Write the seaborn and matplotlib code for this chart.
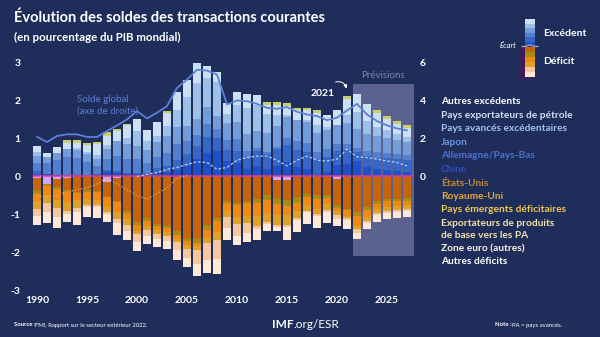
import numpy as np
import pandas as pd
import matplotlib
matplotlib.use("Agg")
import matplotlib.pyplot as plt
import seaborn as sns
from matplotlib.patches import Rectangle
from matplotlib.lines import Line2D

# ---------------- data (% of world GDP) ----------------
years = list(range(1990, 2028))
nan = np.nan

# surpluses (bottom -> top)
chine = [0.05,0.06,0.03,0.00,0.03,0.01,0.03,0.12,0.10,0.07,0.06,0.05,0.10,0.12,0.18,0.29,0.46,0.62,0.67,0.41,
         0.36,0.20,0.29,0.19,0.29,0.39,0.25,0.20,0.03,0.12,0.30,0.33,0.40,0.25,0.20,0.18,0.15,0.13]
allemagne_pb = [0.10,0.00,0.00,0.02,0.02,0.03,0.04,0.05,0.04,0.02,0.02,0.03,0.12,0.15,0.25,0.30,0.35,0.42,0.35,0.30,
                0.32,0.30,0.38,0.40,0.44,0.45,0.45,0.44,0.42,0.40,0.38,0.38,0.25,0.30,0.30,0.30,0.30,0.30]
japon = [0.20,0.30,0.40,0.50,0.45,0.35,0.20,0.30,0.40,0.37,0.37,0.27,0.30,0.36,0.42,0.35,0.30,0.36,0.23,0.25,
         0.30,0.17,0.08,0.06,0.05,0.18,0.25,0.25,0.21,0.20,0.18,0.16,0.10,0.12,0.14,0.14,0.14,0.14]
avances_exc = [0.20,0.15,0.20,0.20,0.20,0.20,0.20,0.25,0.40,0.40,0.35,0.35,0.40,0.45,0.45,0.40,0.40,0.45,0.35,0.45,
               0.45,0.45,0.45,0.50,0.55,0.55,0.55,0.55,0.50,0.50,0.50,0.55,0.50,0.45,0.42,0.40,0.38,0.35]
petrole = [0.10,0.00,0.00,0.00,0.05,0.05,0.10,0.10,0.00,0.15,0.40,0.25,0.15,0.25,0.45,0.75,0.95,0.75,0.90,0.25,
           0.45,0.70,0.70,0.50,0.30,0.05,0.00,0.05,0.20,0.10,0.00,0.20,0.45,0.35,0.25,0.20,0.15,0.12]
autres_exc = [0.16,0.10,0.16,0.17,0.13,0.20,0.30,0.26,0.26,0.34,0.31,0.27,0.37,0.35,0.49,0.47,0.54,0.33,0.25,0.29,
              0.35,0.35,0.25,0.23,0.25,0.24,0.27,0.27,0.32,0.30,0.40,0.42,0.49,0.45,0.38,0.30,0.27,0.23]
ecart_pos = [0,0,0,0.07,0.08,0.05,0.05,0.10,0.05,0.05,0,0,0,0.05,0,0,0,0,0,0,
             0,0,0,0.08,0.08,0.07,0.03,0.06,0.07,0,0,0.10,0,0,0.06,0.07,0.07,0.08]

# deficits (magnitudes, from zero downward)
ecart_neg = [0.05,0.20,0.07,0.05,0,0,0,0.15,0.05,0,0,0,0,0,0,0,0,0,0,0,
             0,0,0,0,0.08,0.08,0,0,0,0,0.06,0,0,0,0,0,0,0]
etats_unis = [0.30,0.00,0.20,0.30,0.40,0.35,0.38,0.40,0.60,0.90,1.20,1.10,1.25,1.30,1.45,1.62,1.63,1.28,1.10,0.65,
              0.69,0.66,0.60,0.48,0.50,0.55,0.55,0.45,0.50,0.50,0.70,0.85,0.95,0.80,0.65,0.60,0.60,0.58]
royaume_uni = [0.10,0.05,0.05,0.05,0.03,0.05,0.03,0.00,0.03,0.08,0.08,0.07,0.06,0.06,0.09,0.09,0.12,0.14,0.08,0.06,
               0.07,0.03,0.10,0.13,0.15,0.15,0.15,0.10,0.10,0.08,0.06,0.04,0.10,0.08,0.07,0.06,0.06,0.06]
emergents_def = [0.20,0.25,0.30,0.30,0.20,0.20,0.20,0.25,0.25,0.15,0.15,0.15,0.10,0.10,0.10,0.10,0.10,0.20,0.30,0.20,
                 0.30,0.35,0.35,0.35,0.30,0.25,0.20,0.20,0.25,0.15,0.10,0.15,0.25,0.20,0.15,0.15,0.12,0.12]
exportateurs_pb = [0.20,0.20,0.20,0.20,0.20,0.15,0.15,0.15,0.20,0.15,0.10,0.10,0.10,0.10,0.10,0.10,0.10,0.15,0.20,0.15,
                   0.20,0.20,0.25,0.25,0.25,0.25,0.20,0.15,0.15,0.15,0.10,0.05,0.10,0.10,0.10,0.10,0.10,0.10]
zone_euro = [0.20,0.25,0.25,0.10,0.10,0.05,0.05,0.05,0.10,0.15,0.20,0.15,0.15,0.15,0.20,0.25,0.35,0.45,0.50,0.30,
             0.30,0.25,0.10,0.05,0.05,0.05,0.05,0.05,0.05,0.05,0.10,0.05,0.10,0.05,0.05,0.05,0.05,0.05]
autres_def = [0.24,0.29,0.28,0.21,0.34,0.28,0.30,0.21,0.31,0.26,0.25,0.22,0.21,0.20,0.26,0.24,0.32,0.32,0.40,0.33,
              0.25,0.25,0.29,0.19,0.12,0.35,0.31,0.30,0.31,0.30,0.20,0.25,0.15,0.17,0.19,0.16,0.17,0.17]

# lines
solde_global = [2.10,1.82,2.14,2.23,2.23,2.09,2.09,2.40,2.70,3.02,3.46,3.07,3.37,3.72,4.68,5.12,5.65,5.60,5.39,3.81,
                4.02,3.98,3.84,3.63,3.58,3.67,3.42,3.28,3.19,2.98,3.11,3.49,3.84,3.28,2.93,2.70,2.54,2.44]
ligne_pos = [nan]*10 + [0.00,0.06,0.10,0.19,0.24,0.32,0.39,0.37,0.19,0.24,0.43,0.50,0.54,0.54,0.43,0.28,0.43,0.54,
                        0.43,0.41,0.46,0.72,0.52,0.50,0.46,0.41,0.37,0.28]
ligne_neg = [-0.50,-0.55,-0.50,-0.40,-0.35,-0.30,-0.20,-0.03,-0.20,-0.35,-0.50,-0.60,-0.45,-0.30,-0.05,0.02] + [nan]*22

tick_years = [1990, 1995, 2000, 2005, 2010, 2015, 2020, 2025]
left_ticks = [-3, -2, -1, 0, 1, 2, 3]
right_ticks = [0, 2, 4, 6]

# ---------------- style ----------------
BG = "#1f2d5b"
pos_series = [("Chine", chine, "#1f50c8"),
              ("Allemagne/Pays-Bas", allemagne_pb, "#3566c8"),
              ("Japon", japon, "#527fd0"),
              ("Pays avancés excédentaires", avances_exc, "#739cd9"),
              ("Pays exportateurs de pétrole", petrole, "#9cc0e7"),
              ("Autres excédents", autres_exc, "#cbe0f3"),
              ("Écart+", ecart_pos, "#c6cf6c")]
neg_series = [("Écart-", ecart_neg, "#d2a6ec"),
              ("États-Unis", etats_unis, "#c4650e"),
              ("Royaume-Uni", royaume_uni, "#a98b18"),
              ("Pays émergents déficitaires", emergents_def, "#ee8912"),
              ("Exportateurs", exportateurs_pb, "#dca22a"),
              ("Zone euro (autres)", zone_euro, "#f5c7a0"),
              ("Autres déficits", autres_def, "#fde8da")]

sns.set_theme(style="white")
plt.rcParams["font.family"] = ["Lato", "DejaVu Sans"]

W, H = 600, 337
fig = plt.figure(figsize=(6, 3.37), dpi=100, facecolor=BG)
ax = fig.add_axes([29 / W, 1 - 290 / H, 388 / W, 227 / H])
ax.set_facecolor(BG)

# forecast box
ax.add_patch(Rectangle((31.55, -2.1), 6.15, 4.55, facecolor="#5b628f", edgecolor="none", zorder=0))

# stacked bars (cumulative, drawn from the outside in)
cum = np.zeros(len(years))
cums = []
for name, vals, col in pos_series:
    cum = cum + np.array(vals)
    cums.append((cum.copy(), col))
for c, col in reversed(cums):
    sns.barplot(x=years, y=c, color=col, saturation=1, width=0.75, linewidth=0, ax=ax, zorder=2)

cum = np.zeros(len(years))
cums = []
for name, vals, col in neg_series:
    cum = cum - np.array(vals)
    cums.append((cum.copy(), col))
for c, col in reversed(cums):
    sns.barplot(x=years, y=c, color=col, saturation=1, width=0.75, linewidth=0, ax=ax, zorder=2)

xpos = np.arange(len(years))
ax.axhline(0, color="#e0399a", lw=1.1, zorder=5, xmin=0.01, xmax=0.99)

sns.lineplot(x=xpos, y=ligne_pos, ax=ax, color="#b9d3f3", lw=0.9, linestyle=(0, (2, 1.6)), zorder=6)
sns.lineplot(x=xpos, y=ligne_neg, ax=ax, color="#f0a860", lw=0.9, linestyle=(0, (1, 1.6)), zorder=6)

ax.set_xlim(-0.8, 38.0)
ax.set_ylim(-3, 3)
ax.set_yticks(left_ticks)
ax.set_yticklabels([str(t) for t in left_ticks])
ax.set_xticks([y - 1990 for y in tick_years])
ax.set_xticklabels([str(y) for y in tick_years])
ax.tick_params(axis="both", length=0, colors="white", labelsize=7.5)
ax.tick_params(axis="y", pad=6)
ax.tick_params(axis="x", pad=4)
for lab in ax.get_xticklabels() + ax.get_yticklabels():
    lab.set_fontweight("bold")
ax.set_xlabel("")
ax.set_ylabel("")
for s in ax.spines.values():
    s.set_visible(False)

ax2 = ax.twinx()
sns.lineplot(x=xpos, y=solde_global, ax=ax2, color="#5a80d8", lw=1.3, zorder=7)
ax2.set_ylim(-6, 6)
ax2.set_yticks(right_ticks)
ax2.set_yticklabels([str(t) for t in right_ticks])
ax2.tick_params(axis="y", length=0, colors="white", labelsize=7.5, pad=2)
for lab in ax2.get_yticklabels():
    lab.set_fontweight("bold")
for s in ax2.spines.values():
    s.set_visible(False)
ax2.set_ylabel("")


def ftext(x, y, s, **kw):
    kw.setdefault("va", "center")
    kw.setdefault("ha", "left")
    return fig.text(x / W, 1 - y / H, s, **kw)


ftext(77, 100, "Solde global", color="#5a80d8", fontsize=7)
ftext(77, 111, "(axe de droite)", color="#5a80d8", fontsize=7)
ftext(383, 76, "Prévisions", color="#7f86b0", fontsize=7, ha="center")
ftext(323, 93, "2021", color="white", fontsize=7.5, fontweight="bold", ha="center")
ax.annotate("", xy=(31.0, 2.25), xytext=(29.6, 2.48),
            arrowprops=dict(arrowstyle="-|>", color="white", lw=0.7, mutation_scale=5,
                            connectionstyle="arc3,rad=-0.6"), zorder=8)

# titles
ftext(14, 18, "Évolution des soldes des transactions courantes", color="white", fontsize=10.5, fontweight="bold")
ftext(14, 37, "(en pourcentage du PIB mondial)", color="white", fontsize=8.3, fontweight="bold")

# legend labels
leg = [("Autres excédents", "#ffffff", 101),
       ("Pays exportateurs de pétrole", "#cfe1f6", 115),
       ("Pays avancés excédentaires", "#a3c3ee", 128.5),
       ("Japon", "#6c95dc", 142.5),
       ("Allemagne/Pays-Bas", "#4a72d0", 156),
       ("Chine", "#2b4fc2", 170),
       ("États-Unis", "#c58a2e", 183.5),
       ("Royaume-Uni", "#e2aa3a", 196.5),
       ("Pays émergents déficitaires", "#f0c74c", 210),
       ("Exportateurs de produits", "#f5e2a8", 223.5),
       ("de base vers les PA", "#f5e2a8", 235),
       ("Zone euro (autres)", "#fff2e2", 249),
       ("Autres déficits", "#ffffff", 262)]
for s, c, y in leg:
    ftext(441, y, s, color=c, fontsize=7.3, fontweight="bold")


def frect(x, y, w, h, col):
    fig.add_artist(Rectangle((x / W, 1 - (y + h) / H), w / W, h / H, transform=fig.transFigure,
                             facecolor=col, edgecolor="none"))


# top-right key
frect(520, 46, 16, 33, "#3d1c5a")
blues = [c for _, _, c in pos_series[:6]][::-1]
for i, c in enumerate(blues):
    frect(525, 19 + i * 4.5, 10, 4.6, c)
oranges = [c for _, _, c in neg_series[1:]]
for i, c in enumerate(oranges):
    frect(525, 47 + i * 5, 10, 5.1, c)
wx = np.linspace(522, 538, 30)
wy = 46.5 - 1.5 * np.exp(-((wx - 530) / 3) ** 2)
fig.add_artist(Line2D(wx / W, 1 - wy / H, transform=fig.transFigure, color="#9aa3c0", lw=1))
ftext(543, 33, "Excédent", color="white", fontsize=7.5, fontweight="bold")
ftext(543, 62, "Déficit", color="white", fontsize=7.5, fontweight="bold")
ftext(516, 45, "Écart", color="white", fontsize=5.5, style="italic", ha="right")

# footer
ftext(14, 325, "Source :", color="white", fontsize=4.3, fontweight="bold")
ftext(35, 325, "FMI, Rapport sur le secteur extérieur 2022.", color="white", fontsize=4.3)
ftext(272, 324, "IMF", color="white", fontsize=8.5, fontweight="bold")
ftext(293, 324, ".org/ESR", color="white", fontsize=8.5)
ftext(495, 325, "Note :", color="white", fontsize=4.3, fontweight="bold")
ftext(512, 325, "PA = pays avancés.", color="white", fontsize=4.3)

fig.savefig("out.png", dpi=100, facecolor=BG)
